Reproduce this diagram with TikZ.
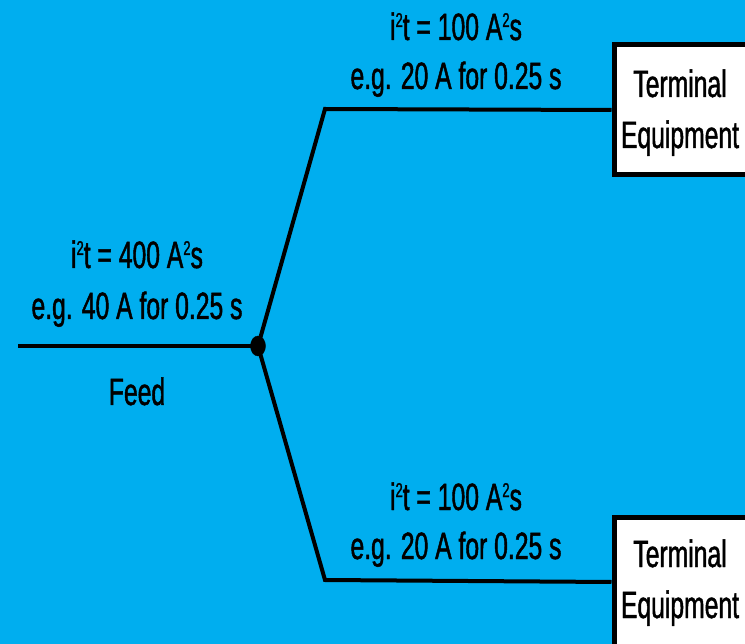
\documentclass[tikz,border=0pt]{standalone}
\usepackage{fontspec}
\usetikzlibrary{shapes.geometric}
\setmainfont[FakeStretch=0.65,FakeBold=1.2]{Liberation Sans}
\definecolor{bgcyan}{RGB}{0,174,239}
\newcommand{\sqr}{\raisebox{13pt}{\fontsize{20}{20}\selectfont 2}}
\tikzset{
  wire/.style={line width=4pt, line join=miter},
  lbl/.style={anchor=base, inner sep=0pt, font=\fontsize{38}{46}\selectfont},
  tebox/.style={draw, line width=5pt, fill=white, minimum width=160pt, minimum height=130pt, inner sep=0pt},
  dot/.style={draw, fill, ellipse, minimum width=15pt, minimum height=20pt, inner sep=0pt}
}
\begin{document}
\begin{tikzpicture}[x=1pt,y=-1pt]
\fill[bgcyan] (0,0) rectangle (745,644);
\useasboundingbox (0,0) rectangle (745,644);
\clip (0,0) rectangle (745,644);
% boxes
\node[tebox] (box1) at (694,110) {};
\node[tebox] (box2) at (694,582) {};
\node[lbl] (b1a) at (680,97) {Terminal};
\node[lbl] (b1b) at (680,148) {Equipment};
\node[lbl] (b2a) at (680,567) {Terminal};
\node[lbl] (b2b) at (680,618) {Equipment};
% junction and corners
\coordinate (feedstart) at (18,346);
\coordinate (jc) at (258,346);
\coordinate (up) at (325,109);
\coordinate (dn) at (325,580);
\draw[wire] (feedstart) -- (jc);
\draw[wire] (jc) -- (up) -- (box1.west);
\draw[wire] (jc) -- (dn) -- (box2.west);
\node[dot] (jn) at (jc) {};
% labels
\node[lbl] (l1) at (137,268) {i\sqr t = 400 A\sqr s};
\node[lbl] (l2) at (137,319) {e.g. 40 A for 0.25 s};
\node[lbl] (feed) at (137,405) {Feed};
\node[lbl] (u1) at (456,40) {i\sqr t = 100 A\sqr s};
\node[lbl] (u2) at (456,89) {e.g. 20 A for 0.25 s};
\node[lbl] (d1) at (456,510) {i\sqr t = 100 A\sqr s};
\node[lbl] (d2) at (456,559) {e.g. 20 A for 0.25 s};
\end{tikzpicture}
\end{document}
